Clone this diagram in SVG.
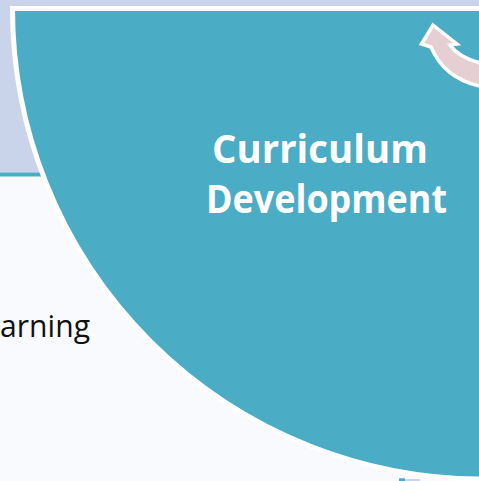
<svg xmlns="http://www.w3.org/2000/svg" width="479" height="481" viewBox="0 0 479 481">
  <style>
    .title { font-family: "Open Sans", "Noto Sans", sans-serif; font-weight: bold; font-size: 39px; fill: #ffffff; }
    .body { font-family: "Open Sans", "Noto Sans", sans-serif; font-size: 31px; fill: #111111; }
  </style>
  <g id="background">
    <rect x="0" y="0" width="479" height="481" fill="#f8fafd"/>
    <rect x="0" y="0" width="479" height="172.5" fill="#c9d3ea"/>
    <rect x="0" y="172.5" width="479" height="4" fill="#4bacc6"/>
    <text class="body" x="0" y="337" textLength="90" lengthAdjust="spacingAndGlyphs">arning</text>
    <rect x="399" y="478.3" width="6" height="3" fill="#4bacc6"/>
    <rect x="405" y="479" width="15" height="2" fill="#c9d3ea"/>
  </g>
  <g id="curriculum-development">
    <path d="M 490 8.5 L 12.5 8.5 A 470.5 470.5 0 0 0 483 479 L 490 479 Z" fill="#4bacc6" stroke="#ffffff" stroke-width="5" stroke-linejoin="miter"/>
    <text class="title" x="212" y="163" textLength="216" lengthAdjust="spacingAndGlyphs">Curriculum</text>
    <text class="title" x="206" y="213" textLength="241" lengthAdjust="spacingAndGlyphs">Development</text>
  </g>
  <g id="connectors">
    <path d="M 433 25 L 457 44 L 450 45 Q 459 58 484 64 L 484 87 Q 445 80 431 47 L 421.5 44 Z" fill="#e6cfd2" stroke="#ffffff" stroke-width="3.5" stroke-linejoin="miter"/>
  </g>
</svg>
